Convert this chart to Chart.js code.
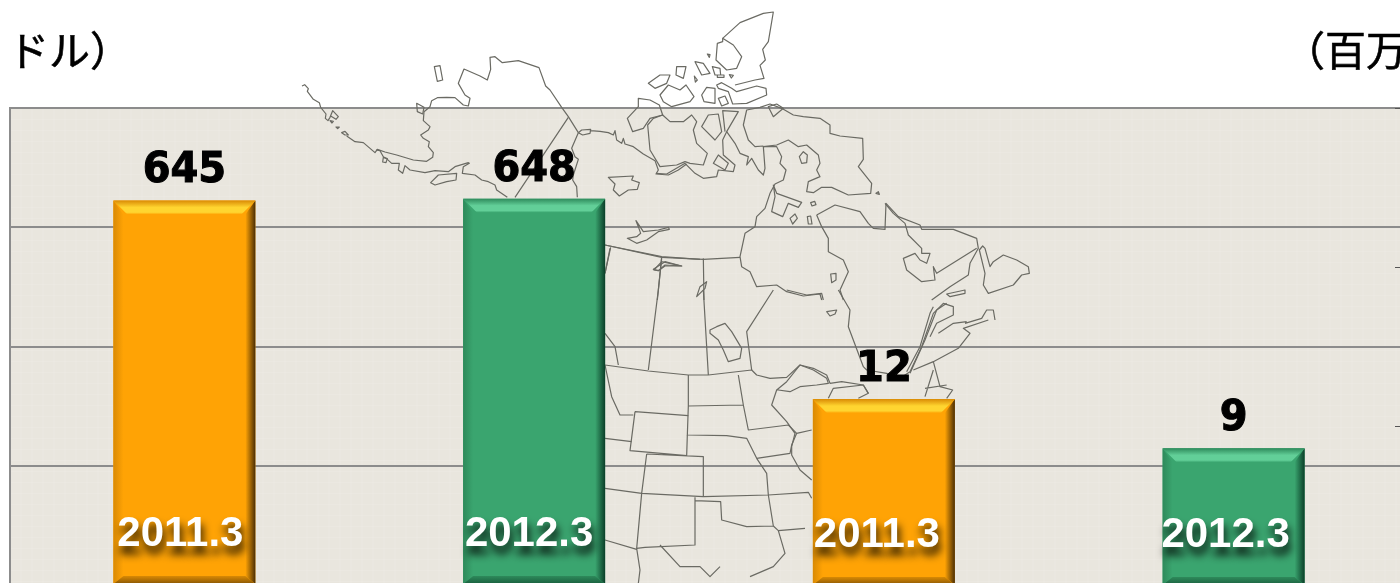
<!DOCTYPE html>
<html>
<head>
<meta charset="utf-8">
<script src="https://cdn.jsdelivr.net/npm/chart.js@4"></script>
<style>
html, body { margin: 0; padding: 0; background: #fff; overflow: hidden; width: 1400px; height: 583px; }
canvas { display: block; }
</style>
</head>
<body>
<canvas id="salesChart" width="1420" height="700"></canvas>
<script>
// Chart data
const categories = ['2011.3', '2012.3', '2011.3', '2012.3'];
const dollarValues = [645, 648, null, null];
const millionValues = [null, null, 11.7, 8.6];
const leftUnit = 'ドル）';
const rightUnit = '（百万';

const orange = { base: '#FFA305', light: '#FFD530', edge: '#D98A04', dark: '#4A2E05' };
const green = { base: '#3AA56F', light: '#62CF98', edge: '#2E8A5B', dark: '#0B3F29' };

// Map outline is only decoration behind the bars, traced at 3x in three tiles
const mapTiles = [
    { x: 300, y: 0, d: [
        'M6,258 L14,254 L25,266 L22,274 L40,298 L58,308 L62,322 L78,342 L76,355 L84,362 L90,352 L98,332 L115,350 L108,358 L92,348',
        'M90,362 L100,364 L96,369 Z M108,381 L118,381 L113,386 Z M125,398 L135,394 L145,405 L135,405 Z',
        'M140,408 L165,425 L190,428 L225,458 L232,448 L255,456 L290,465 L340,480 L380,484 L398,472 L400,458 L385,440 L388,425 L370,415 L362,405 L385,390 L390,380 L370,362 L372,335 L390,320 L395,302 L412,293 L440,292 L465,293 L490,315 L505,318 L510,295 L495,285 L475,250 L492,207 L540,228 L562,240 L572,208 L570,172 L585,170 L607,188 L655,182 L717,203 L737,258 L750,270 L785,322 L805,350 L835,398',
        'M835,398 L845,390 L872,388 L870,400 L848,405 L835,398 M872,392 L900,394 L925,398 L940,405 L945,392 L950,420 L965,430 L970,415 L975,432 L1000,440 L1030,462 L1065,482 L1075,510 L1068,522 L1105,525 L1135,510 L1160,492',
        'M805,352 L645,592 M835,398 L815,445 L825,470 L835,478 L820,525 L818,540 L830,560 L832,592',
        'M622,592 L590,570 L585,555 L565,545 L545,540 L525,525 L487,520 L490,500 L508,490 L505,488 L465,500 L445,515 L405,512 L375,518 L330,510 L315,497 L308,520 L295,510 L298,490 L275,490 L262,478 L250,470 L240,452 L228,450',
        'M392,548 L415,525 L470,520 L468,540 L440,545 L405,555 Z M250,472 L262,476 L258,488 L248,486 Z',
        'M925,532 L1000,528 L995,540 L1018,548 L1012,568 L985,570 L958,588 L940,570 L945,552 Z',
        'M1008,662 L1030,695 L1075,690 L1105,682 L1108,688 L1075,695 L1040,720 L1010,730 L982,715 L1010,710 L1022,700 L1015,680 Z',
        'M915,735 L1085,770 L1200,778 M932,742 L915,820 M1062,810 L1085,785 L1145,798 L1095,795 L1075,812 Z M1085,770 L1075,870',
        'M403,200 L420,197 L428,240 L412,244 Z M350,310 L372,322 L368,342 L352,335 Z'
    ] },
    { x: 600, y: 0, d: [
        'M368,115 L420,68 L490,40 L520,36 L505,125 L488,148 L496,180 L480,196 L492,235 L465,240 L405,255',
        'M368,115 L400,135 L425,170 L410,205 L380,210 L348,180 L352,130 L368,125 Z',
        'M145,250 L180,225 L210,225 L200,250 L165,265 Z M180,285 L205,255 L240,270 L258,255 L282,290 L270,305 L215,320 L190,305 Z',
        'M230,200 L258,200 L250,235 L228,225 Z M285,185 L310,190 L330,220 L305,225 Z M337,200 L360,205 L362,225 L345,225 Z M352,225 L372,225 L372,232 L352,232 Z',
        'M322,162 L330,164 L328,172 Z M283,228 L292,240 L286,246 Z M388,224 L400,226 L394,234 Z',
        'M305,285 L320,262 L345,265 L345,310 L312,305 Z M355,295 L375,288 L385,310 L365,318 Z',
        'M350,255 L365,248 L395,265 L410,275 L470,258 L498,265 L500,285 L440,310 L398,312 L385,275 L355,265 Z',
        'M115,295 L150,300 L178,315 L188,345 L150,355 L130,385 L98,395 L82,355 L115,320 Z',
        'M188,345 L210,365 L250,365 L275,345 L290,365 L280,390 L290,430 L322,460 L310,495 L270,490 L255,485 L230,495 L180,500 L150,450 L143,375 L160,355 L188,345',
        'M168,520 L200,522 L255,490 L285,520 L310,535 L350,530 L355,510 L400,515 L405,495 L370,465 L368,420 L380,395 L415,335 L368,332 L375,395',
        'M305,380 L325,345 L355,342 L365,395 L345,420 Z M340,490 L355,465 L385,490 L375,510 Z',
        'M380,395 L405,430 L420,460 L445,470 L440,495 L455,475 L475,510 L490,525 L495,505 L490,440 L530,435 L565,420 L595,440 L620,435 L655,465 L660,490 L650,510 L660,530 L625,545 L620,575 L640,578 L665,562 L695,562 L745,585 L812,580 L815,550 L775,500 L790,478 L788,415 L720,408 L690,400 L690,375 L660,355 L610,350 L580,345 L545,325 L510,312 L480,322 L440,330 L430,375 L445,420 L465,440 L490,438',
        'M490,440 L530,440 L545,470 L540,490 L558,510 L550,540 L525,552 L510,580 L495,625 L470,650 L465,680 L435,700 L420,770 L425,800 L450,815 L470,860 L530,855 L560,875 L610,888 L660,882 L665,900',
        'M505,320 L520,350 L550,325 L530,312 Z M598,470 L610,455 L622,465 L620,488 L605,490 Z M828,580 L835,575 L838,583 Z',
        'M520,555 L530,580 L605,607 L595,622 L565,610 L548,650 L515,635 L525,590 Z M570,655 L585,642 L592,655 L578,672 Z M622,650 L632,648 L636,672 L625,672 Z M632,608 L644,604 L648,614 L636,618 Z',
        'M650,645 L705,615 L780,635 L805,670 L820,685 L855,688 L858,610 L895,650 L960,675 L965,688 L1060,688 L1130,715 L1135,745 L1110,790 L1105,825 L1050,860 L995,900',
        'M855,610 L880,640 L915,670 L925,705 L965,745 L965,760 L990,760 L980,790 L960,780 L945,760 L910,775 L920,810 L965,845 L1005,840 L1000,800 L1010,820 L1130,745',
        'M1148,738 L1155,745 L1170,800 L1180,785 L1210,765 L1250,780 L1285,800 L1288,820 L1265,825 L1240,855 L1165,880 L1150,855 L1155,820 L1138,750 Z',
        'M650,645 L665,680 L685,715 L685,755 L730,780 L745,815 L720,870 L730,900',
        'M1040,882 L1095,870 L1095,880 L1050,890 Z M692,822 L708,820 L708,840 L695,848 Z',
        'M15,735 L185,772 L310,778 L420,772 M30,745 L15,820 M185,775 L172,900 M310,775 L312,900',
        'M160,808 L195,785 L245,798 L195,798 L175,812 Z M290,890 L300,860 L320,845 L315,865 Z'
    ] },
    { x: 600, y: 290, d: [
        'M175,0 L145,240 M310,0 L325,255 M520,0 L440,125 L455,240',
        'M15,225 L145,243 L265,255 L325,255 L455,240 L470,255 L510,265 L560,262 L600,225 L640,235 L680,255 L690,280 L725,275 L790,285 L805,310 L775,325',
        'M330,120 L350,110 L375,100 L395,125 L425,175 L420,205 L385,215 L370,180 L355,150 L330,130 Z',
        'M560,0 L620,15 L665,10 L670,30 M715,0 L750,60 L745,110 L790,230 L800,240 L860,250 L900,265 L930,245 L965,170 L1000,70 L1030,40 L1060,50 L1060,75 L1010,100 L990,140',
        'M920,245 L960,170 L990,70 L1000,50 M930,250 L975,150 L1010,60 L1040,40 M680,65 L710,60 L705,72 L690,78 Z',
        'M530,300 L560,275 L600,225 L640,240 L680,265 L685,280 L650,285 L600,290 L570,305 L535,300 Z',
        'M415,255 L430,345 L445,420 L565,405 L590,430 L635,420 M265,255 L265,348 L430,345 M265,348 L262,435 L380,437 L440,445 L470,505 L570,490 L575,465 L590,430',
        'M105,365 L265,377 M105,365 L90,482 L260,497 L262,435 M140,492 L125,610 L15,595 M140,492 L310,500 L310,620 L125,610 M470,505 L500,550 L505,615 L625,607 L635,625 M310,620 L505,615',
        'M285,622 L285,765 L135,772 L110,775 L125,610 M285,632 L362,635 L365,690 L440,710 L520,708 L505,615 M520,708 L535,722 L615,715 M535,722 L555,790 L520,830 L450,860',
        'M110,775 L120,840 L115,880 M180,765 L240,830 L300,830 L330,860 L360,830 M15,750 L110,778 M15,445 L95,455 M15,225 L35,320 L60,375 L100,375 M15,130 L45,170 L55,225',
        'M530,300 L515,345 L560,395 L585,430 L575,470 L575,495 L600,540 L635,570 M685,325 L700,295 L790,285 L805,310',
        'M975,320 L1000,240 M940,240 L1000,215 L1020,290 L1058,300 L1040,325 M975,295 L1040,285 M1000,215 L1075,175 L1110,130 L1090,115 L1165,90 M1015,130 L1060,100 L1100,95 M1095,100 L1145,85 L1160,60 L1180,60 L1185,90'
    ] }
];

// Paper background, with a faint weave like the original texture
const backgroundPlugin = {
    id: 'paperBackground',
    beforeDatasetsDraw: function(chart) {
        const ctx = chart.ctx;
        const a = chart.chartArea;
        ctx.save();
        ctx.globalCompositeOperation = 'destination-over';
        ctx.strokeStyle = 'rgba(255, 255, 255, 0.09)';
        ctx.lineWidth = 1;
        for (let x = a.left; x < a.right; x += 11) {
            ctx.beginPath();
            ctx.moveTo(x + 0.5, a.top);
            ctx.lineTo(x + 0.5, a.bottom);
            ctx.stroke();
        }
        for (let y = a.top; y < a.bottom; y += 11) {
            ctx.beginPath();
            ctx.moveTo(a.left, y + 0.5);
            ctx.lineTo(a.right, y + 0.5);
            ctx.stroke();
        }
        ctx.fillStyle = '#E9E6DE';
        ctx.fillRect(a.left, a.top, a.right - a.left, a.bottom - a.top);
        ctx.restore();

        // map outline
        ctx.save();
        ctx.strokeStyle = '#6A6A63';
        ctx.lineJoin = 'round';
        mapTiles.forEach(function(tile) {
            ctx.save();
            ctx.translate(tile.x, tile.y);
            ctx.scale(1 / 3, 1 / 3);
            ctx.lineWidth = 3.6;
            tile.d.forEach(function(path) {
                ctx.stroke(new Path2D(path));
            });
            ctx.restore();
        });
        ctx.restore();
    }
};

// Bevel on each bar, from the element geometry the library computed
function drawBevel(ctx, bar, colors) {
    const left = bar.x - bar.width / 2;
    const right = bar.x + bar.width / 2;
    const top = bar.y;
    const bottom = bar.base;
    const size = 14;
    const side = 10;
    const low = 8;

    function trapezoid(points, fill) {
        ctx.fillStyle = fill;
        ctx.beginPath();
        points.forEach(function(p, i) {
            if (i === 0) ctx.moveTo(p[0], p[1]); else ctx.lineTo(p[0], p[1]);
        });
        ctx.closePath();
        ctx.fill();
    }

    let g = ctx.createLinearGradient(left, 0, left + side, 0);
    g.addColorStop(0, colors.edge);
    g.addColorStop(1, colors.base);
    trapezoid([[left, top], [left + side, top + size], [left + side, bottom - low], [left, bottom]], g);

    g = ctx.createLinearGradient(right - side, 0, right, 0);
    g.addColorStop(0, colors.base);
    g.addColorStop(1, colors.dark);
    trapezoid([[right, top], [right - side, top + size], [right - side, bottom - low], [right, bottom]], g);

    g = ctx.createLinearGradient(0, top, 0, top + size);
    g.addColorStop(0, colors.edge);
    g.addColorStop(0.5, colors.light);
    g.addColorStop(0.85, colors.light);
    g.addColorStop(1, colors.base);
    trapezoid([[left, top], [right, top], [right - size, top + size], [left + size, top + size]], g);

    g = ctx.createLinearGradient(0, bottom - low, 0, bottom + 6);
    g.addColorStop(0, colors.edge);
    g.addColorStop(1, colors.dark);
    trapezoid([[left, bottom], [right, bottom], [right - side, bottom - low], [left + side, bottom - low]], g);
}

// Text shifts of the in-bar labels, they do not sit quite centred in the reference
const inBarShift = [-4, -5, -7, -8];

const labelPlugin = {
    id: 'barLabels',
    afterDatasetsDraw: function(chart) {
        const ctx = chart.ctx;
        chart.data.datasets.forEach(function(dataset, d) {
            const meta = chart.getDatasetMeta(d);
            meta.data.forEach(function(bar, i) {
                const value = dataset.data[i];
                if (value === null) return;
                ctx.save();
                drawBevel(ctx, bar, i % 2 === 0 ? orange : green);

                // value above the bar, stretched a little to match the heavier face
                ctx.save();
                ctx.translate(bar.x, bar.y - 18);
                ctx.scale(1, 1.08);
                ctx.fillStyle = '#000';
                ctx.strokeStyle = '#000';
                ctx.lineWidth = 1;
                ctx.font = 'bold 40px "DejaVu Sans"';
                ctx.textAlign = 'center';
                ctx.textBaseline = 'alphabetic';
                ctx.fillText(String(Math.round(value)), 0, 0);
                ctx.strokeText(String(Math.round(value)), 0, 0);
                ctx.restore();

                ctx.font = 'bold 42px "Liberation Sans"';
                ctx.textAlign = 'center';
                ctx.textBaseline = 'alphabetic';
                ctx.fillStyle = '#fff';
                ctx.shadowColor = 'rgba(0, 0, 0, 0.9)';
                ctx.shadowBlur = 9;
                ctx.shadowOffsetX = 2;
                ctx.shadowOffsetY = 8;
                ctx.fillText(categories[i], bar.x + inBarShift[i], bar.base - 38);
                ctx.restore();
            });
        });
    },
    afterDraw: function(chart) {
        const ctx = chart.ctx;
        ctx.save();
        ctx.fillStyle = '#000';
        ctx.strokeStyle = '#000';
        ctx.lineWidth = 0.6;
        ctx.font = '41px "Noto Sans CJK JP"';
        ctx.textBaseline = 'alphabetic';
        ctx.textAlign = 'left';
        ctx.fillText(leftUnit, 8, 66);
        ctx.strokeText(leftUnit, 8, 66);
        ctx.fillText(rightUnit, 1284, 66);
        ctx.strokeText(rightUnit, 1284, 66);

        // small inner ticks of the right axis
        const y1 = chart.scales.y1;
        ctx.strokeStyle = '#555';
        ctx.lineWidth = 1;
        y1.ticks.forEach(function(t) {
            const y = Math.round(y1.getPixelForValue(t.value)) + 0.5;
            ctx.beginPath();
            ctx.moveTo(1395, y);
            ctx.lineTo(1400, y);
            ctx.stroke();
        });
        ctx.restore();
    }
};

new Chart(document.getElementById('salesChart'), {
    type: 'bar',
    data: {
        labels: categories,
        datasets: [
            {
                label: 'left',
                data: dollarValues,
                yAxisID: 'y',
                backgroundColor: [orange.base, green.base, orange.base, green.base],
                barPercentage: 0.406,
                categoryPercentage: 1,
                grouped: false
            },
            {
                label: 'right',
                data: millionValues,
                yAxisID: 'y1',
                backgroundColor: [orange.base, green.base, orange.base, green.base],
                barPercentage: 0.406,
                categoryPercentage: 1,
                grouped: false
            }
        ]
    },
    options: {
        responsive: false,
        animation: false,
        layout: {
            padding: { left: 9.5, right: 11.5, top: 108, bottom: 107 }
        },
        plugins: {
            legend: { display: false },
            title: { display: false },
            tooltip: { enabled: false }
        },
        scales: {
            x: {
                grid: { display: false },
                border: { display: false },
                ticks: { display: false }
            },
            y: {
                position: 'left',
                min: 0,
                max: 800,
                ticks: { display: false, stepSize: 200 },
                grid: { color: '#8C8C8C', lineWidth: 2, drawTicks: false },
                border: { color: '#8C8C8C', width: 2 }
            },
            y1: {
                position: 'right',
                min: 0,
                max: 30,
                ticks: { display: false, stepSize: 10 },
                grid: { display: false, drawTicks: false },
                border: { display: false }
            }
        }
    },
    plugins: [backgroundPlugin, labelPlugin]
});
</script>
</body>
</html>
